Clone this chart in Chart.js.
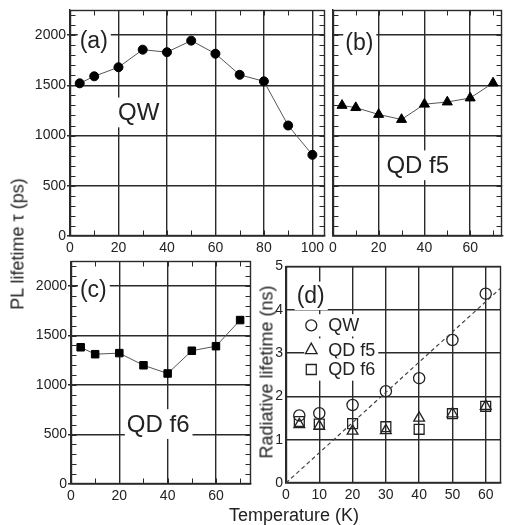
<!DOCTYPE html>
<html>
<head>
<meta charset="utf-8">
<script src="https://cdn.jsdelivr.net/npm/chart.js@4.4.1/dist/chart.umd.min.js"></script>
<style>
  html, body { margin: 0; padding: 0; background: #fff; }
  body { position: relative; width: 508px; height: 525px; overflow: hidden; }
  canvas { position: absolute; }
  .title {
    position: absolute;
    font-family: 'Liberation Sans', Arial, sans-serif;
    font-size: 18px;
    color: #222;
    white-space: nowrap;
    transform: translate(-50%, -50%);
  }
  .title.rot { transform: translate(-50%, -50%) rotate(-90deg); }
</style>
</head>
<body>
<canvas id="panelA" width="330" height="262" style="left:0;top:0"></canvas>
<canvas id="panelB" width="184" height="262" style="left:325px;top:0"></canvas>
<canvas id="panelC" width="260" height="262" style="left:0;top:252px"></canvas>
<canvas id="panelD" width="247" height="258" style="left:262px;top:255px"></canvas>

<div class="title rot" style="left:18px;top:244px">PL lifetime τ (ps)</div>
<div class="title rot" style="left:267px;top:372px">Radiative lifetime (ns)</div>
<div class="title" style="left:294px;top:515px">Temperature (K)</div>

<script>
// (a) quantum well PL lifetime
const tempA = [4, 10, 20, 30, 40, 50, 60, 70, 80, 90, 100];
const tauQW = [1520, 1590, 1680, 1855, 1830, 1945, 1815, 1605, 1540, 1100, 808];

// (b) QD f5 PL lifetime
const tempB = [4, 10, 20, 30, 40, 50, 60, 70];
const tauF5 = [1300, 1278, 1210, 1160, 1312, 1334, 1374, 1523];

// (c) QD f6 PL lifetime
const tempC = [4, 10, 20, 30, 40, 50, 60, 70];
const tauF6 = [1382, 1312, 1323, 1200, 1117, 1347, 1393, 1657];

// (d) radiative lifetimes (ns)
const tempD = [4, 10, 20, 30, 40, 50, 60];
const radQW = [1.56, 1.61, 1.80, 2.12, 2.42, 3.30, 4.37];
const radF5 = [1.35, 1.31, 1.20, 1.21, 1.50, 1.60, 1.77];
const radF6 = [1.42, 1.36, 1.37, 1.30, 1.24, 1.60, 1.77];
const fitT = [0, 64.5];
const fitRad = [0, 4.5];

// tick labels
const tauTicks = [0, 500, 1000, 1500, 2000];
const tempTicksA = [0, 20, 40, 60, 80, 100];
const tempTicksBC = [0, 20, 40, 60];
const tempTicksD = [0, 10, 20, 30, 40, 50, 60];
const radTicks = [0, 1, 2, 3, 4, 5];

const FONT = "'Liberation Sans', Arial, sans-serif";
const INK = '#222';
const GRID = '#2a2a2a';
const GRID_W = 1.4;

Chart.defaults.font.family = FONT;
Chart.defaults.color = INK;

function pts(xs, ys) {
    return xs.map((x, i) => ({ x: x, y: ys[i] }));
}

// draws frame, inward minor ticks and boxed text labels
function extrasPlugin(cfg) {
    return {
        id: 'panelExtras',
        beforeDatasetsDraw(chart) {
            const ctx = chart.ctx;
            const a = chart.chartArea;
            const xs = chart.scales.x, ys = chart.scales.y;
            const L = Math.round(a.left) + 0.5, R = Math.round(a.right) - 0.5;
            const T = Math.round(a.top) + 0.5, B = Math.round(a.bottom) - 0.5;
            ctx.save();
            ctx.strokeStyle = GRID;
            ctx.lineWidth = GRID_W;
            ctx.strokeRect(L, T, R - L, B - T);

            ctx.lineWidth = 1;
            if (cfg.minorX) {
                ctx.beginPath();
                for (let v = cfg.minorX; v < xs.max; v += cfg.minorX) {
                    const p = Math.round(xs.getPixelForValue(v)) + 0.5;
                    ctx.moveTo(p, B); ctx.lineTo(p, B - 5);
                    ctx.moveTo(p, T); ctx.lineTo(p, T + 5);
                }
                ctx.stroke();
            }
            if (cfg.minorY) {
                ctx.beginPath();
                for (let v = cfg.minorY; v < ys.max; v += cfg.minorY) {
                    const p = Math.round(ys.getPixelForValue(v)) + 0.5;
                    ctx.moveTo(L, p); ctx.lineTo(L + 5, p);
                    ctx.moveTo(R, p); ctx.lineTo(R - 5, p);
                }
                ctx.stroke();
            }

            (cfg.notes || []).forEach(n => {
                const px = xs.getPixelForValue(n.x);
                const py = ys.getPixelForValue(n.y);
                ctx.font = n.size + 'px ' + FONT;
                const w = ctx.measureText(n.text).width;
                const boxL = n.marker ? px - 24 : px - 2;
                ctx.fillStyle = '#fff';
                ctx.fillRect(boxL, py - n.size * 0.62, px + w + 3 - boxL, n.size * 1.24);
                ctx.fillStyle = INK;
                ctx.textBaseline = 'middle';
                ctx.fillText(n.text, px, py + 1);
                if (n.marker) {
                    const mx = px - 17;
                    ctx.strokeStyle = INK;
                    ctx.lineWidth = 1.3;
                    ctx.beginPath();
                    if (n.marker === 'circle') {
                        ctx.arc(mx, py, 5.5, 0, Math.PI * 2);
                    } else if (n.marker === 'triangle') {
                        ctx.moveTo(mx, py - 6.5);
                        ctx.lineTo(mx + 5.8, py + 4);
                        ctx.lineTo(mx - 5.8, py + 4);
                        ctx.closePath();
                    } else {
                        ctx.rect(mx - 5, py - 5, 10, 10);
                    }
                    ctx.stroke();
                }
            });
            ctx.restore();
        }
    };
}

function makePanel(id, cfg) {
    return new Chart(document.getElementById(id), {
        type: 'scatter',
        data: { datasets: cfg.datasets },
        options: {
            responsive: false,
            animation: false,
            events: [],
            layout: { padding: cfg.padding },
            plugins: { legend: { display: false }, tooltip: { enabled: false } },
            scales: {
                x: {
                    type: 'linear',
                    min: 0,
                    max: cfg.xMax,
                    afterBuildTicks: s => { s.ticks = cfg.xTicks.map(v => ({ value: v })); },
                    afterFit: s => { s.height = cfg.xH; },
                    ticks: { font: { size: cfg.tickSize }, padding: 4, maxRotation: 0, autoSkip: false, color: INK,
                             callback: v => String(v) },
                    grid: { color: GRID, lineWidth: GRID_W, drawTicks: false },
                    border: { color: GRID, width: GRID_W }
                },
                y: {
                    type: 'linear',
                    min: 0,
                    max: cfg.yMax,
                    afterBuildTicks: s => { s.ticks = cfg.yTicks.map(v => ({ value: v })); },
                    afterFit: s => { s.width = cfg.yW; },
                    ticks: { display: cfg.yLabels, font: { size: cfg.tickSize }, padding: cfg.yPad, autoSkip: false, color: INK,
                             callback: v => String(v) },
                    grid: { color: GRID, lineWidth: GRID_W, drawTicks: cfg.yTick > 0, tickLength: cfg.yTick },
                    border: { color: GRID, width: GRID_W }
                }
            }
        },
        plugins: [extrasPlugin(cfg)]
    });
}

function tauLine(xs, ys, style, r) {
    return {
        data: pts(xs, ys),
        showLine: true,
        borderColor: '#555',
        borderWidth: 1,
        pointStyle: style,
        pointRadius: r,
        pointBackgroundColor: '#000',
        pointBorderColor: '#000',
        pointBorderWidth: 1
    };
}

function hollow(xs, ys, style, r) {
    return {
        data: pts(xs, ys),
        showLine: false,
        pointStyle: style,
        pointRadius: r,
        pointBackgroundColor: 'rgba(0,0,0,0)',
        pointBorderColor: INK,
        pointBorderWidth: 1.3
    };
}

makePanel('panelA', {
    datasets: [tauLine(tempA, tauQW, 'circle', 4.5)],
    padding: { left: 0, top: 10, right: 5, bottom: 0 },
    xMax: 105, xTicks: tempTicksA, xH: 26,
    yMax: 2250, yTicks: tauTicks, yW: 70, yLabels: true, yPad: 1, yTick: 3,
    tickSize: 14, minorX: 10, minorY: 100,
    notes: [
        { text: '(a)', x: 4, y: 1940, size: 23 },
        { text: 'QW', x: 19.8, y: 1230, size: 24 }
    ]
});

makePanel('panelB', {
    datasets: [tauLine(tempB, tauF5, 'triangle', 5.8)],
    padding: { left: 0, top: 10, right: 0, bottom: 0 },
    xMax: 74, xTicks: tempTicksBC, xH: 26,
    yMax: 2250, yTicks: tauTicks, yW: 7, yLabels: false, yPad: 0, yTick: 0,
    tickSize: 14, minorX: 10, minorY: 100,
    notes: [
        { text: '(b)', x: 5.4, y: 1925, size: 23 },
        { text: 'QD f5', x: 23.4, y: 704, size: 24 }
    ]
});

makePanel('panelC', {
    datasets: [tauLine(tempC, tauF6, 'rect', 5.3)],
    padding: { left: 0, top: 7, right: 9, bottom: 0 },
    xMax: 74.5, xTicks: tempTicksBC, xH: 30,
    yMax: 2250, yTicks: tauTicks, yW: 71, yLabels: true, yPad: 1, yTick: 3,
    tickSize: 14, minorX: 10, minorY: 100,
    notes: [
        { text: '(c)', x: 3.7, y: 1968, size: 23 },
        { text: 'QD f6', x: 23.1, y: 606, size: 24 }
    ]
});

makePanel('panelD', {
    datasets: [
        {
            data: pts(fitT, fitRad),
            showLine: true,
            borderColor: '#444',
            borderWidth: 1.2,
            borderDash: [4, 3],
            pointRadius: 0
        },
        hollow(tempD, radF6, 'rect', 7),
        hollow(tempD, radF5, 'triangle', 6.2),
        hollow(tempD, radQW, 'circle', 5.6)
    ],
    padding: { left: 0, top: 7, right: 0, bottom: 0 },
    xMax: 64.5, xTicks: tempTicksD, xH: 30,
    yMax: 5, yTicks: radTicks, yW: 24, yLabels: true, yPad: 3, yTick: 0,
    tickSize: 14, minorX: 0, minorY: 0,
    notes: [
        { text: '(d)', x: 3.2, y: 4.32, size: 23 },
        { text: 'QW', x: 12.7, y: 3.64, size: 18, marker: 'circle' },
        { text: 'QD f5', x: 12.7, y: 3.08, size: 18, marker: 'triangle' },
        { text: 'QD f6', x: 12.7, y: 2.62, size: 18, marker: 'square' }
    ]
});
</script>
</body>
</html>
